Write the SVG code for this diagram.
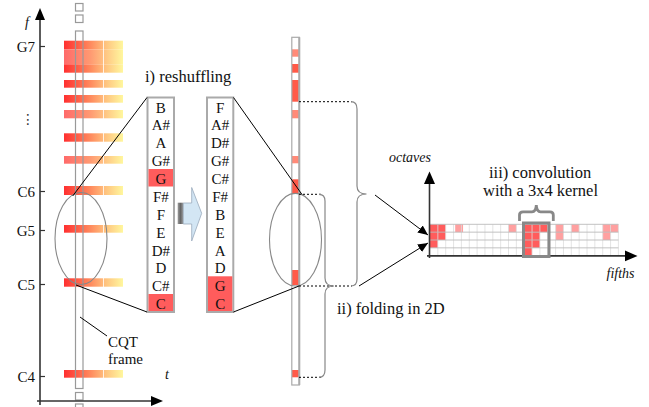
<svg xmlns="http://www.w3.org/2000/svg" width="649" height="407" viewBox="0 0 649 407" font-family="'Liberation Serif', 'Times New Roman', serif">
<defs>
<linearGradient id="gS" x1="0" x2="1" y1="0" y2="0">
<stop offset="0" stop-color="#ff3030"/><stop offset="0.45" stop-color="#ff8a5e"/><stop offset="0.7" stop-color="#ffc27e"/><stop offset="1" stop-color="#fff79e"/>
</linearGradient>
<linearGradient id="gW" x1="0" x2="1" y1="0" y2="0">
<stop offset="0" stop-color="#ff6a6a"/><stop offset="0.45" stop-color="#ff9a72"/><stop offset="0.7" stop-color="#ffc583"/><stop offset="1" stop-color="#fff79e"/>
</linearGradient>
<linearGradient id="gStub" x1="0" x2="1" y1="0" y2="0">
<stop offset="0" stop-color="#9a9a9a"/><stop offset="0.5" stop-color="#666"/><stop offset="1" stop-color="#999"/>
</linearGradient>
<marker id="ah" viewBox="0 0 10 10" refX="10" refY="5" markerWidth="10" markerHeight="10" markerUnits="userSpaceOnUse" orient="auto">
<path d="M0,0.5 L10,5 L0,9.5 Z" fill="#000"/>
</marker>
</defs>
<style>
text{font-family:'Liberation Serif','Times New Roman',serif}
.lbl{font-size:15px;fill:#111}
.tick{font-size:15px;fill:#111;text-anchor:end}
.it{font-style:italic;font-size:14px;fill:#111}
.note{font-size:16.5px;fill:#111}
.nt{font-size:15px;fill:#111;text-anchor:middle}
.axis{stroke:#333;stroke-width:1.6;fill:none}
.frame{fill:none;stroke:#999;stroke-width:1.2}
.box{fill:#fff;stroke:#aaa;stroke-width:2}
.red{fill:#ff5c5c}
.pink{fill:#ffa0a0}
.cred{fill:#ff5a48}
.clt{fill:#ff8a78}
.ln{stroke:#000;stroke-width:1;fill:none}
.dot{stroke:#000;stroke-width:1;stroke-dasharray:2,2;fill:none}
.brace{stroke:#888;stroke-width:1.2;fill:none}
.ell{fill:none;stroke:#888;stroke-width:1.1}
.grid{stroke:#ddd;stroke-width:0.8}
.gridh{stroke:#bbb;stroke-width:0.9}
</style>

<g id="spectrogram">
<rect x="64" y="40.7" width="59" height="8.6" fill="url(#gS)"/>
<rect x="64" y="49.3" width="59" height="15" fill="url(#gW)"/>
<rect x="64" y="64.3" width="59" height="8.4" fill="url(#gS)"/>
<rect x="64" y="80" width="59" height="7.7" fill="url(#gS)"/>
<rect x="64" y="95" width="59" height="7.7" fill="url(#gS)"/>
<rect x="64" y="110" width="59" height="8.3" fill="url(#gW)"/>
<rect x="64" y="133.3" width="59" height="8.4" fill="url(#gS)"/>
<rect x="64" y="156" width="59" height="7.7" fill="url(#gW)"/>
<rect x="64" y="186" width="59" height="9" fill="url(#gS)"/>
<rect x="64" y="225" width="59" height="7.7" fill="url(#gS)"/>
<rect x="64" y="278.3" width="59" height="8.4" fill="url(#gS)"/>
<rect x="64" y="370" width="59" height="7.7" fill="url(#gS)"/>
<line x1="103.5" y1="38" x2="103.5" y2="380" stroke="#fff" stroke-width="0.8"/>
</g>

<g id="cqt-frame">
<rect class="frame" x="75.5" y="31" width="7.5" height="357.5"/>
<rect class="frame" x="75.5" y="3.5" width="7.5" height="7.5"/>
<rect class="frame" x="75.5" y="15" width="7.5" height="7.5"/>
<rect class="frame" x="75.5" y="392.5" width="7.5" height="7.5"/>
<rect class="frame" x="75.5" y="404" width="7.5" height="7.5"/>
<ellipse class="ell" cx="81" cy="238.5" rx="26" ry="46"/>
</g>

<g id="axes-left">
<line class="axis" x1="40" y1="405" x2="40" y2="20"/>
<path d="M35,20 L40,8 L45,20 Z" fill="#000"/>
<line class="axis" x1="37" y1="401" x2="152" y2="401"/>
<path d="M151,396 L163,401 L151,406 Z" fill="#000"/>
<text class="it" x="25" y="27">f</text>
<text class="it" x="165" y="379">t</text>
<g stroke="#333" stroke-width="1.2">
<line x1="40" y1="46.5" x2="45" y2="46.5"/>
<line x1="40" y1="191.5" x2="45" y2="191.5"/>
<line x1="40" y1="230.5" x2="45" y2="230.5"/>
<line x1="40" y1="284.5" x2="45" y2="284.5"/>
<line x1="40" y1="376.5" x2="45" y2="376.5"/>
</g>
<text class="tick" x="35" y="51.5">G7</text>
<text class="tick" x="35" y="196.5">C6</text>
<text class="tick" x="35" y="235.5">G5</text>
<text class="tick" x="35" y="289.5">C5</text>
<text class="tick" x="35" y="381.5">C4</text>
<text x="28" y="124" style="font-family:'DejaVu Sans',sans-serif;font-size:14px;fill:#333" text-anchor="middle">⋮</text>
</g>

<g id="cqt-label">
<line class="ln" x1="80" y1="317" x2="107" y2="336"/>
<text class="lbl" x="108" y="347">CQT</text>
<text class="lbl" x="108" y="364">frame</text>
</g>

<g id="chroma-box-1">
<rect class="box" x="147.5" y="97.5" width="26.5" height="214.5"/>
<rect class="red" x="148.5" y="169" width="24.5" height="17.5"/>
<rect class="red" x="148.5" y="294" width="24.5" height="17"/>
<text class="nt" x="160.8" y="112.5">B</text>
<text class="nt" x="160.8" y="130.4">A#</text>
<text class="nt" x="160.8" y="148.3">A</text>
<text class="nt" x="160.8" y="166.1">G#</text>
<text class="nt" x="160.8" y="184">G</text>
<text class="nt" x="160.8" y="201.9">F#</text>
<text class="nt" x="160.8" y="219.8">F</text>
<text class="nt" x="160.8" y="237.6">E</text>
<text class="nt" x="160.8" y="255.5">D#</text>
<text class="nt" x="160.8" y="273.4">D</text>
<text class="nt" x="160.8" y="291.3">C#</text>
<text class="nt" x="160.8" y="309.1">C</text>
</g>

<g id="reshuffle-arrow">
<rect x="177.7" y="202.7" width="5.6" height="21.3" fill="url(#gStub)"/>
<path d="M183.3,203 L191.7,203 L191.7,187.5 L201.7,213.3 L191.7,241 L191.7,224 L183.3,224 Z" fill="#d3e6f4" stroke="#9ab" stroke-width="0.8"/>
<text class="note" x="145" y="82">i)  reshuffling</text>
</g>

<g id="chroma-box-2">
<rect class="box" x="207" y="97.5" width="26.3" height="214.5"/>
<rect class="red" x="208" y="276.3" width="24.3" height="34.7"/>
<text class="nt" x="220.2" y="112.5">F</text>
<text class="nt" x="220.2" y="130.4">A#</text>
<text class="nt" x="220.2" y="148.3">D#</text>
<text class="nt" x="220.2" y="166.1">G#</text>
<text class="nt" x="220.2" y="184">C#</text>
<text class="nt" x="220.2" y="201.9">F#</text>
<text class="nt" x="220.2" y="219.8">B</text>
<text class="nt" x="220.2" y="237.6">E</text>
<text class="nt" x="220.2" y="255.5">A</text>
<text class="nt" x="220.2" y="273.4">D</text>
<text class="nt" x="220.2" y="291.3">G</text>
<text class="nt" x="220.2" y="309.1">C</text>
</g>

<g id="reshuffled-frame">
<rect class="clt" x="292" y="49.3" width="7" height="7.4"/>
<rect class="cred" x="292" y="64" width="7" height="8.7"/>
<rect class="cred" x="292" y="80" width="7" height="21.7"/>
<rect class="clt" x="292" y="110" width="7" height="8.3"/>
<rect class="clt" x="292" y="156" width="7" height="7.3"/>
<rect class="cred" x="292" y="179.3" width="7" height="14.7"/>
<rect class="cred" x="292" y="270" width="7" height="15"/>
<rect class="cred" x="292" y="370" width="7" height="7.3"/>
<rect x="291.8" y="37.3" width="7.5" height="347.7" fill="none" stroke="#aaa" stroke-width="1.2"/>
<line x1="299.3" y1="37.3" x2="299.3" y2="385" stroke="#aaa" stroke-width="2"/>
<ellipse class="ell" cx="295.5" cy="239.7" rx="26" ry="46.3"/>
</g>

<g id="connectors">
<line class="ln" x1="72.7" y1="196" x2="147" y2="97.5"/>
<line class="ln" x1="76" y1="285" x2="147" y2="312"/>
<line class="ln" x1="233.5" y1="97.5" x2="302" y2="194.5"/>
<line class="ln" x1="233.5" y1="312" x2="299" y2="286"/>
<line class="dot" x1="299" y1="101.7" x2="352" y2="101.7"/>
<line class="dot" x1="299" y1="194.3" x2="321" y2="194.3"/>
<line class="dot" x1="299" y1="286" x2="352" y2="286"/>
<line class="dot" x1="299" y1="377.3" x2="321" y2="377.3"/>
<path class="brace" d="M351,101.7 Q357,101.7 357,109 L357,186 Q357,194 366.5,194 Q357,194 357,202 L357,279 Q357,286 351,286"/>
<path class="brace" d="M319,194.3 Q325,194.3 325,201 L325,278 Q325,286 334,286 Q325,286 325,294 L325,370 Q325,377.3 319,377.3"/>
<line class="ln" x1="375" y1="195" x2="428" y2="235" marker-end="url(#ah)"/>
<line class="ln" x1="359" y1="286" x2="428" y2="243" marker-end="url(#ah)"/>
<text class="note" x="337" y="314">ii)  folding in 2D</text>
</g>

<g id="pitch-grid">
<g class="red">
<rect x="430" y="224.3" width="15.7" height="15.7"/>
<rect x="430" y="240" width="7.85" height="7.85"/>
<rect x="524.2" y="224.3" width="23.55" height="7.85"/>
<rect x="524.2" y="232.15" width="15.7" height="15.7"/>
<rect x="524.2" y="247.85" width="7.85" height="7.85"/>
</g>
<g class="pink">
<rect x="455.2" y="224.3" width="7.85" height="7.85"/>
<rect x="508.5" y="224.3" width="7.85" height="7.85"/>
<rect x="555.6" y="224.3" width="7.85" height="15.7"/>
<rect x="571.3" y="224.3" width="7.85" height="7.85"/>
<rect x="602.7" y="224.3" width="15.7" height="7.85"/>
<rect x="602.7" y="232.15" width="7.85" height="7.85"/>
</g>
<g class="grid">
<line x1="437.85" y1="224.3" x2="437.85" y2="255.7"/><line x1="445.7" y1="224.3" x2="445.7" y2="255.7"/>
<line x1="453.55" y1="224.3" x2="453.55" y2="255.7"/><line x1="461.4" y1="224.3" x2="461.4" y2="255.7"/>
<line x1="469.25" y1="224.3" x2="469.25" y2="255.7"/><line x1="477.1" y1="224.3" x2="477.1" y2="255.7"/>
<line x1="484.95" y1="224.3" x2="484.95" y2="255.7"/><line x1="492.8" y1="224.3" x2="492.8" y2="255.7"/>
<line x1="500.65" y1="224.3" x2="500.65" y2="255.7"/><line x1="508.5" y1="224.3" x2="508.5" y2="255.7"/>
<line x1="516.35" y1="224.3" x2="516.35" y2="255.7"/><line x1="524.2" y1="224.3" x2="524.2" y2="255.7"/>
<line x1="532.05" y1="224.3" x2="532.05" y2="255.7"/><line x1="539.9" y1="224.3" x2="539.9" y2="255.7"/>
<line x1="547.75" y1="224.3" x2="547.75" y2="255.7"/><line x1="555.6" y1="224.3" x2="555.6" y2="255.7"/>
<line x1="563.45" y1="224.3" x2="563.45" y2="255.7"/><line x1="571.3" y1="224.3" x2="571.3" y2="255.7"/>
<line x1="579.15" y1="224.3" x2="579.15" y2="255.7"/><line x1="587" y1="224.3" x2="587" y2="255.7"/>
<line x1="594.85" y1="224.3" x2="594.85" y2="255.7"/><line x1="602.7" y1="224.3" x2="602.7" y2="255.7"/>
<line x1="610.55" y1="224.3" x2="610.55" y2="255.7"/><line x1="618.4" y1="224.3" x2="618.4" y2="255.7"/>
</g>
<g class="gridh">
<line x1="430" y1="224.3" x2="618.4" y2="224.3"/>
<line x1="430" y1="232.15" x2="618.4" y2="232.15"/>
<line x1="430" y1="240" x2="618.4" y2="240"/>
<line x1="430" y1="247.85" x2="618.4" y2="247.85"/>
</g>
<line class="axis" x1="429.5" y1="258" x2="429.5" y2="183"/>
<path d="M424,184 L429.5,171.5 L435,184 Z" fill="#000"/>
<line class="axis" x1="427" y1="255.9" x2="626" y2="255.9"/>
<path d="M625,250.5 L637.5,255.9 L625,261.3 Z" fill="#000"/>
<text class="it" x="389" y="161.5">octaves</text>
<text class="it" x="606.5" y="277.5">fifths</text>
</g>

<g id="kernel">
<rect x="523.5" y="223" width="25.5" height="33.5" fill="none" stroke="#888" stroke-width="3"/>
<path d="M519.5,221 L519.5,215 Q519.5,211.8 523,211.8 L532,211.8 Q536,211.8 536.3,205 Q536.6,211.8 540.6,211.8 L550,211.8 Q553.3,211.8 553.3,215 L553.3,221" fill="none" stroke="#888" stroke-width="2.8"/>
<text class="note" x="489" y="177.5">iii)  convolution</text>
<text class="note" x="483" y="195.5">with a 3x4 kernel</text>
</g>
</svg>
